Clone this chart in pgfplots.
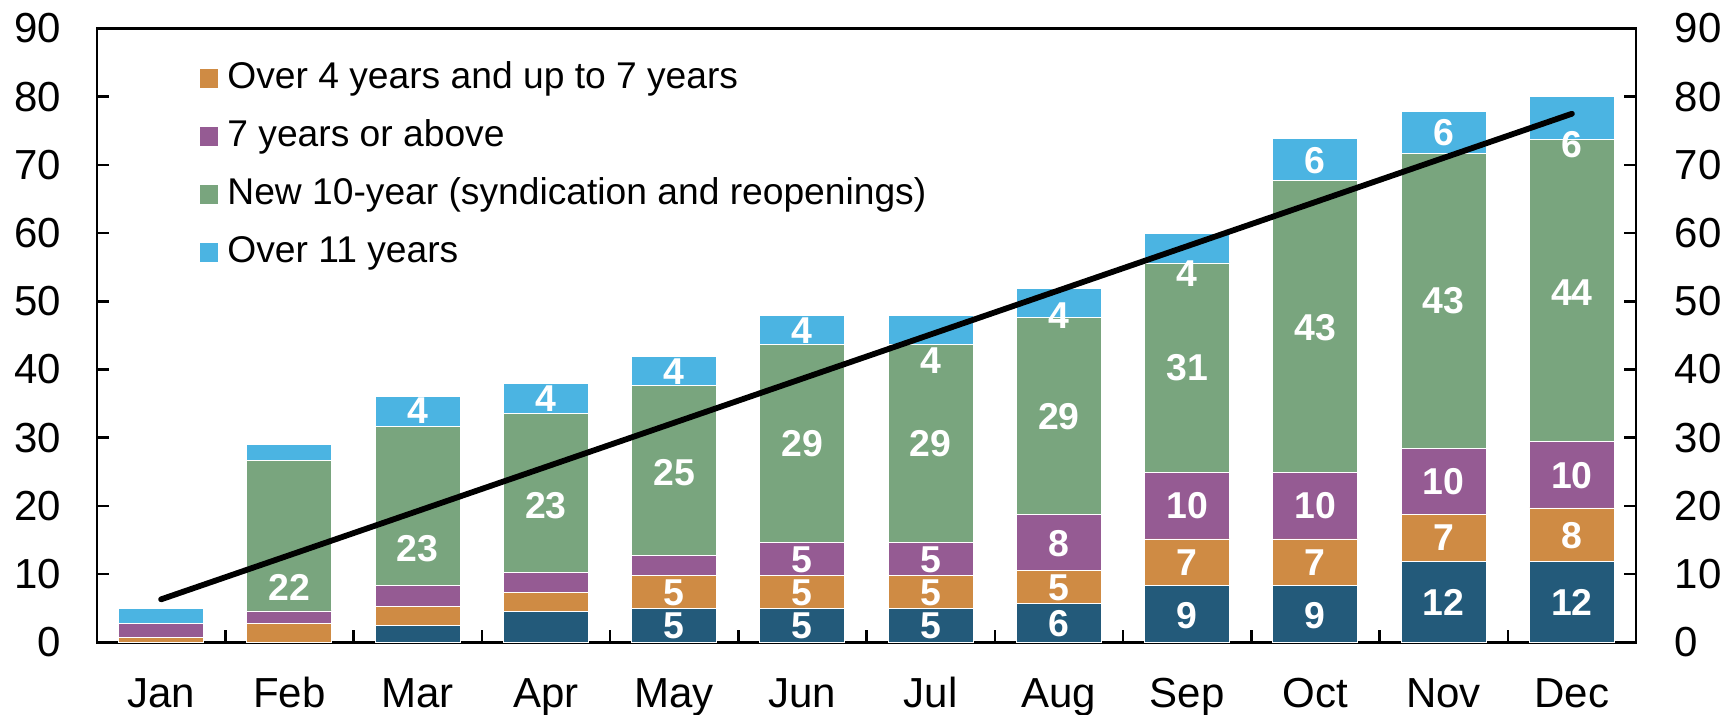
\documentclass[border=0pt]{standalone}
\usepackage{pgfplots}
\pgfplotsset{compat=1.18}
\usepackage{pgfplotstable}
\usepackage{fontspec}
\setmainfont{Liberation Sans}

\definecolor{cDk}{HTML}{235A7A}
\definecolor{cOr}{HTML}{CF8B44}
\definecolor{cPu}{HTML}{955B93}
\definecolor{cGr}{HTML}{79A57E}
\definecolor{cLb}{HTML}{4BB4E2}

\pgfplotstableread{
m dk or pu gr lb
0 0 0.7 2.0 0 2.3
1 0 2.7 1.9 22.1 2.3
2 2.43 2.77 3.1 23.3 4.4
3 4.49 2.81 2.9 23.4 4.3
4 5.0 4.75 2.95 24.9 4.25
5 5.0 4.75 4.92 28.95 4.3
6 5.0 4.75 4.92 28.95 4.3
7 5.72 4.8 8.2 28.95 4.15
8 8.31 6.85 9.77 30.7 4.3
9 8.31 6.85 9.77 42.8 6.2
10 11.83 6.89 9.73 43.25 6.2
11 11.83 7.87 9.73 44.27 6.3
}\bars

\pgfplotstableread{
x y lab
1 8.1 22
2 13.7 23
2 34.0 4
3 20.1 23
3 35.8 4
4 2.45 5
4 7.3 5
4 24.9 25
4 39.7 4
5 2.45 5
5 7.3 5
5 12.1 5
5 29.1 29
5 45.7 4
6 2.45 5
6 7.3 5
6 12.1 5
6 29.1 29
6 41.3 4
7 2.7 6
7 8.0 5
7 14.4 8
7 33.1 29
7 47.9 4
8 3.9 9
8 11.7 7
8 20.1 10
8 40.3 31
8 54.0 4
9 3.9 9
9 11.7 7
9 20.1 10
9 46.2 43
9 70.7 6
10 5.9 12
10 15.3 7
10 23.5 10
10 50.1 43
10 74.8 6
11 5.9 12
11 15.6 8
11 24.4 10
11 51.3 44
11 72.9 6
}\labs

\begin{document}
\begin{tikzpicture}
\useasboundingbox (0,0) rectangle (861.5pt,357.5pt);
\begin{axis}[
  at={(48.5pt,36.35pt)}, anchor=south west,
  width=769.5pt, height=306.9pt, scale only axis,
  xmin=-0.5, xmax=11.5, ymin=0, ymax=90,
  ybar stacked, bar width=42.5pt,
  xtick={0.5,1.5,...,10.5}, xticklabel=\empty,
  extra x ticks={0,1,2,3,4,5,6,7,8,9,10,11},
  extra x tick labels={Jan,Feb,Mar,Apr,May,Jun,Jul,Aug,Sep,Oct,Nov,Dec},
  extra x tick style={major tick length=0pt,
    xticklabel style={anchor=base, inner sep=0pt, yshift=-32.8pt, font=\fontsize{21}{24}\selectfont}},
  xtick pos=left,
  ytick={0,10,...,90},
  ytick pos=both, yticklabel pos=left,
  yticklabel style={anchor=east, inner sep=0pt, xshift=-17.7pt, font=\fontsize{21}{24}\selectfont},
  /pgf/number format/assume math mode=true,
  tick align=inside, major tick length=6pt,
  every tick/.style={black, line width=1.25pt},
  axis line style={line width=1.25pt},
  legend style={draw=none, fill=none, at={(0.0669,0.9466)}, anchor=north west,
    inner sep=0pt, outer sep=0pt, row sep=11.6pt, column sep=4.5pt,
    font=\fontsize{18.6}{21}\selectfont,
    nodes={inner sep=0pt, text height=13.4pt, text depth=4pt}},
  legend cell align=left,
  legend image code/.code={\path[#1, draw=none] (0pt,-4.6pt) rectangle (9.25pt,4.6pt);},
]
\addplot[fill=cDk, draw=white, line width=0.4pt, forget plot] table[x=m, y=dk]{\bars};
\addplot[fill=cOr, draw=white, line width=0.4pt] table[x=m, y=or]{\bars};
\addplot[fill=cPu, draw=white, line width=0.4pt] table[x=m, y=pu]{\bars};
\addplot[fill=cGr, draw=white, line width=0.4pt] table[x=m, y=gr]{\bars};
\addplot[fill=cLb, draw=white, line width=0.4pt] table[x=m, y=lb]{\bars};
\legend{Over 4 years and up to 7 years, 7 years or above, New 10-year (syndication and reopenings), Over 11 years}
\end{axis}
\begin{axis}[
  at={(48.5pt,36.35pt)}, anchor=south west,
  width=769.5pt, height=306.9pt, scale only axis,
  xmin=-0.5, xmax=11.5, ymin=0, ymax=90,
  axis x line=none, axis y line*=right,
  y axis line style={draw=none}, ytick style={draw=none},
  ytick={0,10,...,90},
  yticklabel style={anchor=west, inner sep=0pt, xshift=19.2pt, font=\fontsize{21}{24}\selectfont},
  /pgf/number format/assume math mode=true,
  clip=false,
]
\addplot[black, line width=2.9pt, line cap=round] coordinates {(0,6.3) (11,77.5)};
\addplot[draw=none, mark=none, nodes near coords, point meta=explicit symbolic,
  every node near coord/.append style={anchor=center, inner sep=0pt, text=white,
    font=\bfseries\fontsize{18.7}{20}\selectfont}]
  table[x=x, y=y, meta=lab]{\labs};
\end{axis}
\end{tikzpicture}
\end{document}
